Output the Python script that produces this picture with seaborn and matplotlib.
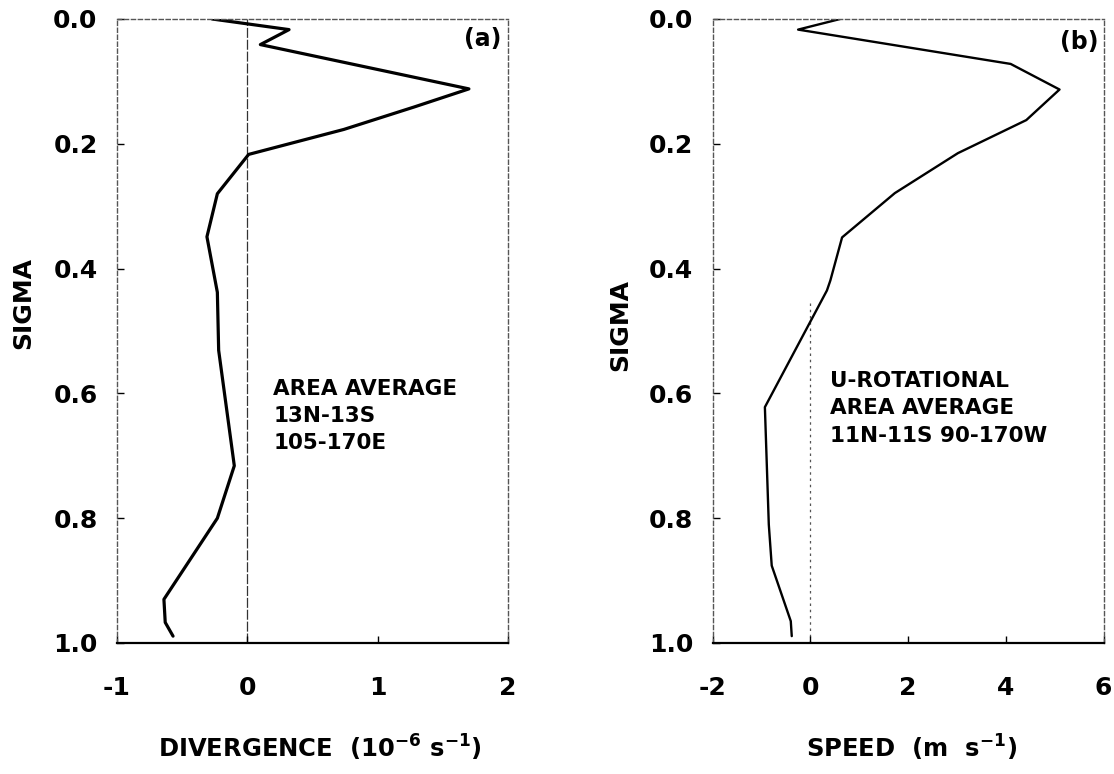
import matplotlib
matplotlib.use("Agg")
import matplotlib.pyplot as plt
import seaborn as sns
import pandas as pd

# ---- data ----
sigma_a = [0.0, 0.017, 0.041, 0.112, 0.141, 0.177, 0.217, 0.280, 0.349,
           0.438, 0.531, 0.716, 0.800, 0.930, 0.967, 0.989]
div_a = [-0.27, 0.32, 0.10, 1.70, 1.28, 0.74, 0.01, -0.23, -0.31,
         -0.23, -0.22, -0.10, -0.23, -0.64, -0.63, -0.57]

sigma_b = [0.0, 0.017, 0.072, 0.113, 0.162, 0.215, 0.279, 0.350, 0.419,
           0.435, 0.622, 0.810, 0.876, 0.965, 0.989]
speed_b = [0.61, -0.25, 4.10, 5.10, 4.42, 3.02, 1.73, 0.65, 0.41,
           0.34, -0.93, -0.85, -0.79, -0.40, -0.38]

sigma_ticks = [0.0, 0.2, 0.4, 0.6, 0.8, 1.0]
xticks_a = [-1, 0, 1, 2]
xticks_b = [-2, 0, 2, 4, 6]

label_a = "DIVERGENCE  (10$^{-6}$ s$^{-1}$)"
label_b = "SPEED  (m  s$^{-1}$)"
note_a = "AREA AVERAGE\n13N-13S\n105-170E"
note_b = "U-ROTATIONAL\nAREA AVERAGE\n11N-11S 90-170W"

# ---- style ----
sns.set_style("white")
plt.rcParams["font.family"] = ["DejaVu Sans"]
plt.rcParams["font.weight"] = "bold"
plt.rcParams["text.color"] = "black"
plt.rcParams["axes.labelcolor"] = "black"
plt.rcParams["xtick.color"] = "black"
plt.rcParams["ytick.color"] = "black"
plt.rcParams["axes.unicode_minus"] = False
plt.rcParams["mathtext.fontset"] = "custom"
plt.rcParams["mathtext.rm"] = "DejaVu Sans:bold"
plt.rcParams["mathtext.default"] = "rm"

fig = plt.figure(figsize=(11.14, 7.74), dpi=100)
W, H = 1114, 774


def make_axes(left_px, right_px, top_px=19, bottom_px=643):
    return fig.add_axes([left_px / W, (H - bottom_px) / H,
                         (right_px - left_px) / W, (bottom_px - top_px) / H])


ax_a = make_axes(117, 508)
ax_b = make_axes(712.6, 1103.5)

df_a = pd.DataFrame({"x": div_a, "sigma": sigma_a})
df_b = pd.DataFrame({"x": speed_b, "sigma": sigma_b})

sns.lineplot(data=df_a, x="x", y="sigma", sort=False, estimator=None,
             color="black", lw=2.3, ax=ax_a)
sns.lineplot(data=df_b, x="x", y="sigma", sort=False, estimator=None,
             color="black", lw=1.7, ax=ax_b)

ax_a.axvline(0, color="#333333", lw=0.9, ls=(0, (8, 1.5)), zorder=0)
ax_b.axvline(0, ymin=0, ymax=0.55, color="#555555", lw=0.9, ls=(0, (2, 3)), zorder=0)

for ax, xt, xlab, lx, rx_note, ry_note, note, tag, tagpos, ylab_pos in [
    (ax_a, xticks_a, label_a, 0.52, 0.20, 0.636, note_a, "(a)", (0.934, 0.968), (-0.24, 0.545)),
    (ax_b, xticks_b, label_b, 0.51, 0.41, 0.624, note_b, "(b)", (0.939, 0.963), (-0.237, 0.51)),
]:
    ax.set_xlim(xt[0], xt[-1])
    ax.set_ylim(1.0, 0.0)
    ax.set_xticks(xt)
    ax.set_xticklabels([str(v) for v in xt])
    ax.set_yticks(sigma_ticks)
    ax.set_yticklabels([f"{v:.1f}" for v in sigma_ticks])
    ax.tick_params(axis="both", direction="in", length=5, width=1,
                   color="black", labelsize=18, labelcolor="black")
    ax.tick_params(axis="y", pad=14, left=True)
    ax.tick_params(axis="x", pad=24, bottom=True)
    for t in ax.get_xticklabels() + ax.get_yticklabels():
        t.set_fontweight("bold")
    ax.spines["bottom"].set_color("black")
    ax.spines["bottom"].set_linewidth(1.6)
    for s in ["left", "top", "right"]:
        ax.spines[s].set_color("#555555")
        ax.spines[s].set_linewidth(1.0)
        ax.spines[s].set_linestyle((0, (3, 2)))
    ax.set_xlabel(xlab, fontsize=17.5, fontweight="bold", va="baseline",
                  color="black")
    ax.xaxis.set_label_coords(lx, -0.183)
    ax.set_ylabel("SIGMA", fontsize=18, fontweight="bold", va="center",
                  color="black")
    ax.yaxis.set_label_coords(*ylab_pos)
    ax.text(rx_note, ry_note, note, fontsize=15.5, fontweight="bold",
            ha="left", va="center", linespacing=1.45, color="black",
            transform=ax.transData)
    ax.text(tagpos[0], tagpos[1], tag, fontsize=17, fontweight="bold",
            ha="center", va="center", color="black", transform=ax.transAxes)

fig.savefig("out.png", dpi=100, facecolor="white")
